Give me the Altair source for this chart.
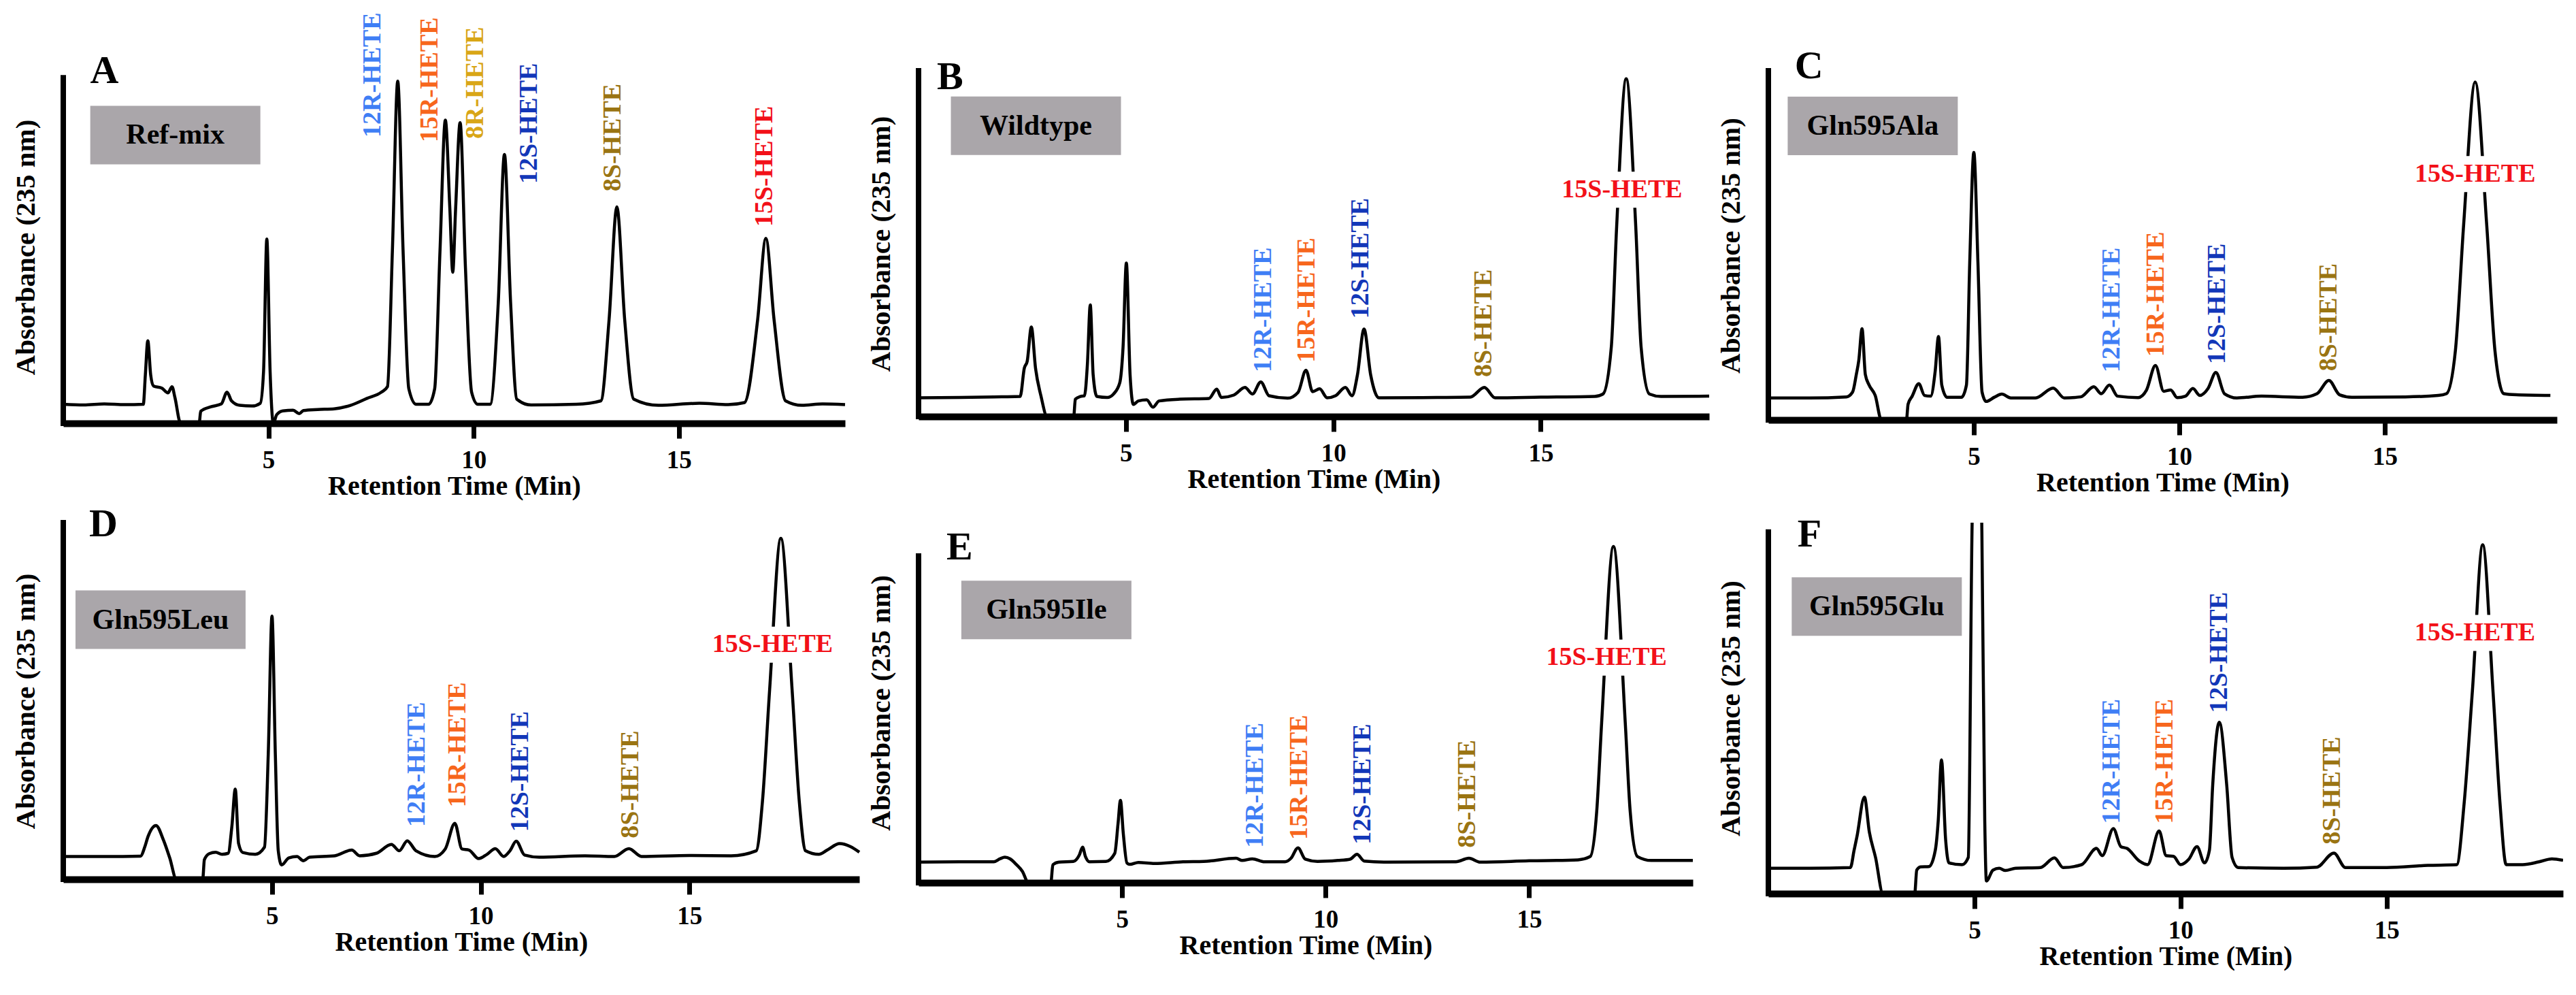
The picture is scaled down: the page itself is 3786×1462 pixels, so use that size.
import altair as alt
import pandas as pd

FONT = "Liberation Serif"

PANEL_LETTERS = ["A", "B", "C", "D", "E", "F"]
SAMPLES = ["Ref-mix", "Wildtype", "Gln595Ala", "Gln595Leu", "Gln595Ile", "Gln595Glu"]

HETE_NAMES = ["12R-HETE", "15R-HETE", "8R-HETE", "12S-HETE", "8S-HETE", "15S-HETE"]
HETE_COLORS = ["#3f7ef5", "#f7661c", "#d9a616", "#1237b8", "#9a7412", "#f21018"]

# chromatogram traces, retention time (min) / absorbance (% of full scale)
A_TIME = [0.0, 0.5, 1.0, 1.5, 1.95, 2.0, 2.06, 2.13, 2.2, 2.4, 2.55, 2.65, 2.72, 2.86, 3.31, 3.35, 3.6, 3.85,
          3.99, 4.1, 4.3, 4.6, 4.8, 4.88, 4.96, 5.04, 5.12, 5.2, 5.35, 5.6, 5.75, 5.85, 6.2, 6.6, 7.0, 7.4,
          7.75, 7.9, 8.02, 8.15, 8.28, 8.42, 8.6, 8.9, 9.05, 9.18, 9.31, 9.42, 9.49, 9.56, 9.67, 9.8, 9.95,
          10.1, 10.4, 10.6, 10.75, 10.9, 11.05, 11.4, 12.5, 13.1, 13.3, 13.49, 13.68, 13.9, 14.5, 15.5,
          16.2, 16.6, 16.92, 17.12, 17.32, 17.6, 18.0, 18.5, 19.05]
A_ABS = [5.5, 5.3, 5.6, 5.4, 5.5, 14, 23.9, 14, 10.8, 10.2, 8.8, 10.6, 7.5, 0, 0, 3.5, 4.8, 5.6,
         9.0, 6.5, 5.2, 5.0, 5.8, 15, 53.3, 15, 0, 2.5, 3.6, 3.8, 2.8, 3.7, 4.0, 4.2, 5.2, 7.2,
         9.0, 10.6, 50, 99, 50, 10, 5.5, 5.5, 10, 50, 87.7, 62, 43.7, 62, 87, 45, 9,
         5.5, 5.5, 35, 77.8, 35, 7, 5.3, 5.5, 6.5, 30, 62.6, 30, 7, 5.2, 5.8,
         5.4, 6, 30, 53.5, 30, 6.5, 5.2, 5.6, 5.4]

B_TIME = [0, 1.0, 2.0, 2.45, 2.55, 2.62, 2.72, 2.82, 2.95, 3.1, 3.74, 3.78, 3.9, 4.0, 4.07, 4.14, 4.21,
          4.3, 4.55, 4.7, 4.85, 4.93, 5.01, 5.1, 5.18, 5.3, 5.5, 5.65, 5.8, 6.3, 7.0, 7.19, 7.3, 7.6,
          7.87, 8.05, 8.25, 8.45, 8.9, 9.15, 9.34, 9.5, 9.67, 9.85, 10.05, 10.29, 10.45, 10.58, 10.74,
          10.9, 11.1, 12.5, 13.3, 13.64, 13.9, 15, 16.3, 16.5, 16.7, 16.83, 17.06, 17.29, 17.42, 17.62,
          17.9, 19.06]
B_ABS = [5.4, 5.5, 5.7, 5.8, 14, 16, 25.9, 14, 6, 0, 0, 5.0, 5.8, 6.0, 15, 32.3, 12,
         5.8, 5.5, 6.5, 9.7, 20, 44.4, 12, 3.5, 4.5, 4.8, 2.7, 4.5, 5.0, 5.2, 7.9, 5.5, 6.2,
         8.4, 6.5, 10.0, 6.0, 5.3, 7, 13.4, 7.2, 8.0, 5.4, 6, 8.4, 6, 12, 25.3,
         12, 5.4, 5.5, 5.6, 8.4, 5.4, 5.6, 5.8, 6.5, 20, 55, 97.7, 55, 20, 6.5,
         5.8, 5.9]

C_TIME = [0, 1.0, 1.9, 2.05, 2.14, 2.2, 2.28, 2.36, 2.45, 2.6, 2.75, 3.36, 3.4, 3.5, 3.66, 3.8, 3.95,
          4.06, 4.14, 4.22, 4.35, 4.7, 4.82, 4.9, 5.0, 5.1, 5.2, 5.3, 5.5, 5.68, 5.9, 6.5, 6.93, 7.2,
          7.6, 7.92, 8.1, 8.3, 8.5, 9.0, 9.2, 9.42, 9.62, 9.79, 9.95, 10.15, 10.33, 10.5, 10.7, 10.89,
          11.1, 11.4, 12.0, 13.0, 13.35, 13.64, 13.9, 14.2, 15.5, 16.3, 16.5, 16.72, 16.92, 17.2, 17.48,
          17.68, 17.9, 18.2, 19.03]
C_ABS = [6.3, 6.3, 6.6, 8, 13, 17, 26.1, 13, 10, 7, 0, 0, 4.5, 6.8, 10.4, 7, 6.8,
         14, 23.9, 10, 6.5, 6.5, 10, 45, 76.6, 45, 8, 5.3, 6.5, 7.4, 6.3, 6.3, 9.1, 6.3,
         6.6, 9.5, 7.5, 10.0, 6.8, 6.4, 8.5, 15.6, 8.2, 8.6, 6.4, 6.8, 9.0, 7, 9, 13.6,
         7.5, 6.3, 6.8, 6.5, 7.5, 11.3, 7.2, 6.5, 6.6, 7.0, 7.5, 20, 56, 96.8, 56,
         20, 7.5, 7.2, 7.0]

D_TIME = [0, 1.0, 1.85, 1.95, 2.03, 2.22, 2.4, 2.55, 2.71, 3.34, 3.38, 3.5, 3.65, 3.8, 3.95, 4.04, 4.12,
          4.2, 4.3, 4.6, 4.82, 4.91, 5.0, 5.08, 5.15, 5.23, 5.4, 5.6, 5.75, 5.9, 6.5, 6.91, 7.1, 7.5,
          7.86, 8.05, 8.24, 8.45, 8.9, 9.15, 9.38, 9.55, 9.72, 9.95, 10.15, 10.35, 10.55, 10.7, 10.85,
          11.05, 11.4, 12.5, 13.2, 13.55, 13.85, 15, 16.0, 16.6, 16.75, 16.92, 17.19, 17.46, 17.63,
          17.78, 18.1, 18.3, 18.6, 18.85, 19.07]
D_ABS = [6.4, 6.4, 6.5, 9, 12, 15.1, 11, 6, 0, 0, 5.5, 7.2, 7.6, 7.0, 7.3, 15, 25.3,
         10, 7.5, 7.0, 9, 35, 73.8, 35, 8, 4.0, 6.0, 6.4, 5.2, 6.2, 6.6, 8.2, 6.6, 7.3,
         9.8, 8.0, 10.8, 8, 6.4, 8.5, 15.7, 8.5, 8.2, 5.8, 7, 8.6, 6.4, 8, 10.7,
         6.8, 6.2, 6.6, 6.4, 8.6, 6.4, 6.7, 6.6, 8, 22, 53, 95.6, 53, 22,
         8, 7.0, 8.2, 10.0, 9.2, 7.6]

E_TIME = [0, 1.0, 1.85, 2.0, 2.12, 2.25, 2.4, 2.55, 2.7, 3.25, 3.3, 3.45, 3.8, 3.95, 4.03, 4.1, 4.2,
          4.6, 4.82, 4.9, 4.96, 5.03, 5.12, 5.19, 5.4, 5.8, 6.5, 7.0, 7.8, 7.95, 8.2, 8.5, 9.0, 9.15,
          9.32, 9.5, 9.8, 10.3, 10.6, 10.77, 10.95, 11.5, 13.2, 13.52, 13.8, 15, 16.2, 16.5, 16.66,
          16.78, 17.07, 17.36, 17.48, 17.66, 18.0, 19.02]
E_ABS = [6.3, 6.4, 6.4, 7.3, 7.8, 7.3, 5.6, 3.5, 0, 0, 5.5, 6.3, 6.5, 8.5, 10.9, 8, 6.4,
         6.5, 9, 18, 25.2, 15, 6, 5.6, 6.2, 5.9, 6.4, 6.5, 7.5, 6.8, 7.3, 6.4, 6.4, 7.5,
         10.7, 7.2, 6.5, 6.8, 7.2, 8.7, 6.6, 6.3, 6.4, 7.5, 6.3, 6.7, 7.0, 8, 22,
         49, 102.9, 49, 22, 8, 6.8, 6.8]

F_TIME = [0, 1.0, 1.99, 2.08, 2.15, 2.33, 2.45, 2.6, 2.78, 3.55, 3.6, 3.69, 3.9, 4.05, 4.12, 4.2, 4.3,
          4.38, 4.7, 4.85, 4.94, 5.06, 5.18, 5.25, 5.29, 5.45, 5.6, 5.75, 6.0, 6.6, 6.94, 7.15, 7.6,
          7.96, 8.1, 8.37, 8.55, 8.7, 9.0, 9.2, 9.48, 9.65, 9.83, 10.0, 10.2, 10.4, 10.58, 10.7, 10.78,
          10.94, 11.12, 11.25, 11.4, 12.5, 13.3, 13.72, 14.0, 15, 16.0, 16.7, 16.88, 17.08, 17.33,
          17.58, 17.75, 17.9, 18.3, 18.7, 19.01, 19.28]
F_ABS = [7.0, 7.0, 7.2, 12, 15.8, 26.7, 17, 10, 0, 0, 6.5, 7.4, 7.5, 12, 20, 37, 15,
         8.5, 8.0, 10, 100, 150, 100, 20, 3.5, 6.5, 7.0, 6.4, 7.0, 7.2, 9.9, 7.2, 8.0,
         12.5, 10.5, 18.0, 13.0, 12.5, 9.0, 8.0, 17.3, 10.5, 10.3, 8.0, 9.5, 13.0, 8.5, 12, 30,
         47.4, 30, 10, 7.2, 7.0, 7.3, 11.2, 7.2, 7.2, 7.8, 8, 25, 56, 96.5,
         56, 25, 8, 8.0, 8.8, 9.6, 9.2]

# peak label anchors (time, absorbance); None where the label is not shown
A_LABEL_TIME = [7.55, 8.93, 10.04, 11.35, 13.4, 17.09]
A_LABEL_ABS = [82.7, 81.3, 82.3, 69.3, 67.1, 56.9]
B_LABEL_TIME = [8.31, 9.37, None, 10.66, 13.63, 16.96]
B_LABEL_ABS = [12.8, 15.6, None, 28.3, 11.4, 65.6]
C_LABEL_TIME = [8.36, 9.44, None, 10.92, 13.64, 17.2]
C_LABEL_ABS = [13.6, 18.1, None, 16.0, 14.0, 70.4]
D_LABEL_TIME = [8.47, 9.45, None, 10.96, 13.59, 16.99]
D_LABEL_ABS = [14.7, 20.2, None, 13.3, 11.5, 65.8]
E_LABEL_TIME = [8.28, 9.36, None, 10.91, 13.48, 16.9]
E_LABEL_ABS = [10.7, 13.1, None, 11.7, 10.7, 68.9]
F_LABEL_TIME = [8.34, 9.63, None, 10.94, 13.69, 17.14]
F_LABEL_ABS = [19.3, 19.3, None, 50.0, 13.6, 72.1]

# sample name box and panel letter anchors
BOX_TIME = [2.73, 2.83, 2.54, 2.33, 3.14, 2.63]
BOX_ABS = [83.4, 84.1, 84.2, 72.8, 83.5, 79.4]
LETTER_TIME = [1.0, 0.76, 0.99, 0.96, 1.01, 1.0]
LETTER_ABS = [101.8, 98.1, 101.1, 99.5, 102.4, 99.2]

# vertical axis line of each panel runs from 0 to full scale
AXIS_ABS = [0, 100]

TRACES = [(A_TIME, A_ABS), (B_TIME, B_ABS), (C_TIME, C_ABS),
          (D_TIME, D_ABS), (E_TIME, E_ABS), (F_TIME, F_ABS)]
LABELS = [(A_LABEL_TIME, A_LABEL_ABS), (B_LABEL_TIME, B_LABEL_ABS), (C_LABEL_TIME, C_LABEL_ABS),
          (D_LABEL_TIME, D_LABEL_ABS), (E_LABEL_TIME, E_LABEL_ABS), (F_LABEL_TIME, F_LABEL_ABS)]

WIDTHS = [1149, 1162, 1159, 1170, 1138, 1168]
HEIGHTS = [518, 508, 513, 524, 529, 545]
X_END = [19.05, 19.06, 19.19, 19.07, 19.02, 19.28]
Y_TOP = [102, 100, 100, 100, 110.2, 102.6]

GREY_BOX = "M-1,-0.344L1,-0.344L1,0.344L-1,0.344Z"
WHITE_BOX = "M-1,-0.265L1,-0.265L1,0.265L-1,0.265Z"


def make_panel(i):
    times, absorb = TRACES[i]
    trace = pd.DataFrame({"t": times, "v": absorb})

    lt, lv = LABELS[i]
    rows = []
    for name, color, t, v in zip(HETE_NAMES, HETE_COLORS, lt, lv):
        if t is None:
            continue
        flat = name == "15S-HETE" and i > 0
        rows.append({"t": t, "v": v, "name": name, "color": color, "flat": flat})
    labels = pd.DataFrame(rows)
    upright = labels[~labels["flat"]]
    flat = labels[labels["flat"]]

    x_axis = alt.Axis(values=[5, 10, 15], format="d", grid=False,
                      domainColor="black", domainWidth=10,
                      tickColor="black", tickWidth=7, tickSize=22,
                      labelFont=FONT, labelFontSize=37, labelFontWeight="bold",
                      labelColor="black", labelPadding=14,
                      titleFont=FONT, titleFontSize=40, titleFontWeight="bold",
                      titleColor="black", titlePadding=0)
    y_axis = alt.Axis(domain=False, ticks=False, labels=False, grid=False,
                      titleFont=FONT, titleFontSize=41, titleFontWeight="bold",
                      titleColor="black", titlePadding=34)
    x_scale = alt.Scale(domain=[0, X_END[i]], nice=False, zero=False)
    y_scale = alt.Scale(domain=[0, Y_TOP[i]], nice=False)
    x = alt.X("t:Q", title="Retention Time (Min)", axis=x_axis, scale=x_scale)
    y = alt.Y("v:Q", title="Absorbance (235 nm)", axis=y_axis, scale=y_scale)

    line = alt.Chart(trace).mark_line(
        color="black", strokeWidth=4.5, interpolate="monotone", clip=(i == 5)
    ).encode(x=x, y=y)

    y_line = alt.Chart(pd.DataFrame({"t": [0, 0], "v": AXIS_ABS, "k": [0, 1]})).mark_line(
        color="black", strokeWidth=8, strokeCap="square"
    ).encode(x=x, y=y, order="k:Q")

    vtext = alt.Chart(upright).mark_text(
        angle=270, align="left", baseline="middle",
        font=FONT, fontSize=38, fontWeight="bold"
    ).encode(x=x, y=y, text="name:N", color=alt.Color("color:N", scale=None))

    box = pd.DataFrame({"t": [BOX_TIME[i]], "v": [BOX_ABS[i]], "s": [SAMPLES[i]]})
    mark = pd.DataFrame({"t": [LETTER_TIME[i]], "v": [LETTER_ABS[i]], "l": [PANEL_LETTERS[i]]})
    grey = alt.Chart(box).mark_point(
        shape=GREY_BOX, size=62500, filled=True, color="#aaa6aa", opacity=1, strokeWidth=0
    ).encode(x=x, y=y)
    sample = alt.Chart(box).mark_text(
        font=FONT, fontSize=42, fontWeight="bold", color="black", baseline="middle"
    ).encode(x=x, y=y, text="s:N")
    letter = alt.Chart(mark).mark_text(
        font=FONT, fontSize=58, fontWeight="bold", color="black", baseline="middle"
    ).encode(x=x, y=y, text="l:N")

    layers = [line, y_line, vtext, grey, sample, letter]
    if len(flat):
        halo = alt.Chart(flat).mark_point(
            shape=WHITE_BOX, size=40000, filled=True, color="white", opacity=1, strokeWidth=0
        ).encode(x=x, y=y)
        htext = alt.Chart(flat).mark_text(
            align="center", baseline="middle", font=FONT, fontSize=38, fontWeight="bold"
        ).encode(x=x, y=y, text="name:N", color=alt.Color("color:N", scale=None))
        layers = [line, halo, htext, y_line, vtext, grey, sample, letter]

    return alt.layer(*layers).properties(width=WIDTHS[i], height=HEIGHTS[i])


chart = alt.concat(
    *[make_panel(i) for i in range(6)],
    columns=3,
    spacing=alt.RowColnumber(row=146, column=87),
    bounds="flush",
).properties(
    padding={"left": 9, "top": 10, "right": 10, "bottom": 10},
    background="white",
).configure_view(strokeWidth=0)

chart.save("out.html", embed_options={"renderer": "svg", "actions": False})
